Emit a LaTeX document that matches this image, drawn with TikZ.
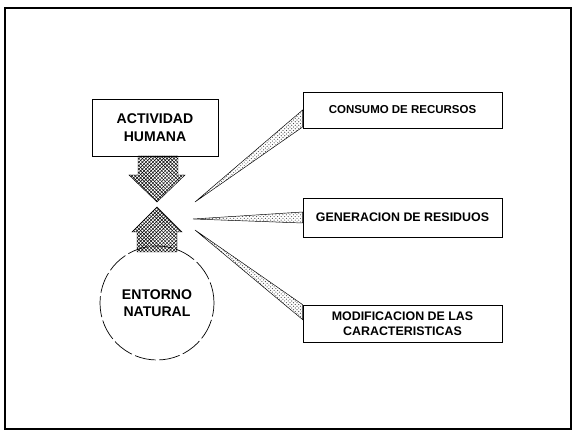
\documentclass[tikz,border=0pt]{standalone}
\usepackage{fontspec}
\setmainfont{Liberation Sans}
\usetikzlibrary{calc, patterns}

\begin{document}
\begin{tikzpicture}[
  x=0.03cm, y=-0.03cm,
  box/.style={draw, semithick, minimum height=1.08cm, minimum width=5.97cm, align=center, font=\fontsize{10.6}{12.5}\selectfont\bfseries, inner sep=2pt},
  blockarr/.style={draw, thin, pattern=crosshatch},
  wedge/.style={draw, thin, pattern=crosshatch dots, pattern color=black!70}
]
\useasboundingbox (0,0) rectangle (575,431);
\draw[line width=0.9pt] (5,8) rectangle (571,429);
\node[box, minimum width=3.78cm, minimum height=1.71cm, font=\fontsize{12}{15}\selectfont\bfseries] (actividad) at (155,127.5) {ACTIVIDAD\\HUMANA};
\node[draw, circle, semithick, dash pattern=on 18pt off 3pt, minimum size=3.42cm, align=center, font=\fontsize{12}{15}\selectfont\bfseries] (entorno) at (157,303) {ENTORNO\\NATURAL};
\node[box, font=\fontsize{9.8}{12}\selectfont\bfseries] (consumo) at (402.5,110) {CONSUMO DE RECURSOS};
\node[box, minimum height=1.17cm] (generacion) at (402.5,217.5) {GENERACION DE RESIDUOS};
\node[box, minimum height=1.11cm] (modificacion) at (402.5,323.5) {MODIFICACION DE LAS\\CARACTERISTICAS};
% flechas de bloque
\draw[blockarr] (138,156) -- (178,156) -- (178,175) -- (185,175) -- (157,202) -- (129,175) -- (138,175) -- cycle;
\draw[blockarr] (137,252) -- (137,232) -- (132,232) -- (157,207) -- (182,232) -- (177,232) -- (177,252) -- cycle;
% cunas hacia los efectos
\coordinate (c1) at (195,202);
\coordinate (c2) at (193,219);
\coordinate (c3) at (195,230);
\draw[wedge] (c1) -- (consumo.west) -- ($(consumo.west)+(0,17)$) -- cycle;
\draw[wedge] (c2) -- ($(generacion.west)+(0,-5.5)$) -- ($(generacion.west)+(0,5.5)$) -- cycle;
\draw[wedge] (c3) -- (modificacion.north west) -- ($(modificacion.north west)+(0,15)$) -- cycle;
\end{tikzpicture}
\end{document}
